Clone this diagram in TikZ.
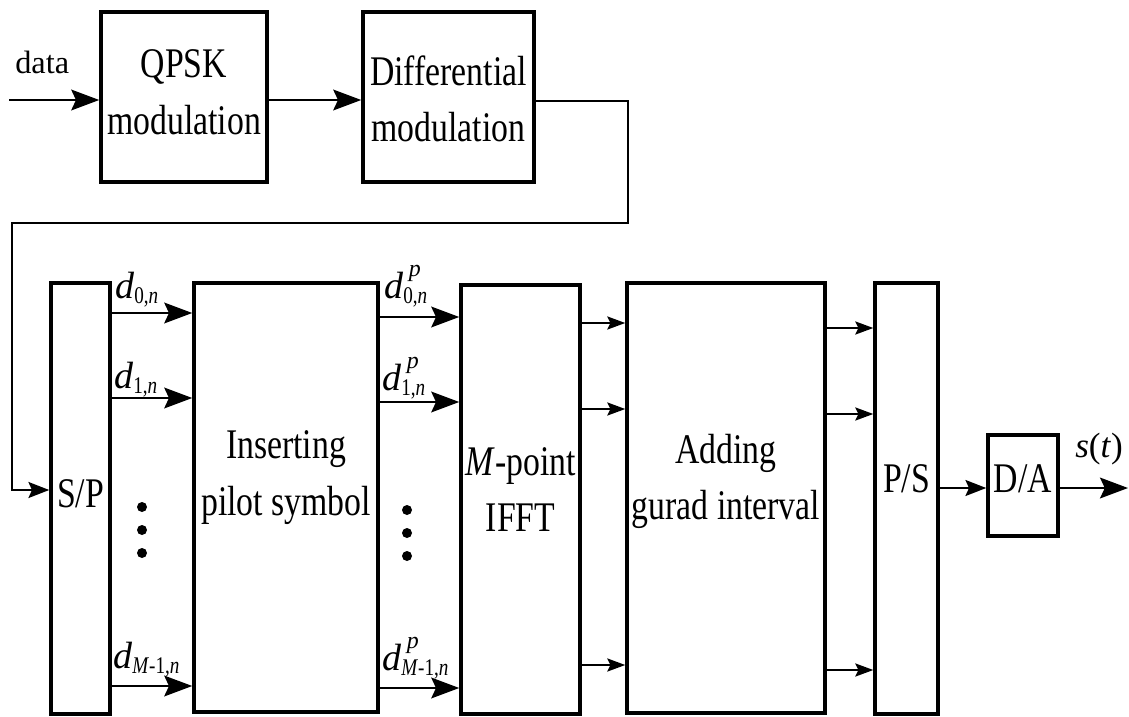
\documentclass[tikz,border=0pt]{standalone}
\usepackage{fontspec}
\usepackage{graphicx}
\setmainfont{Liberation Serif}
\usetikzlibrary{arrows.meta}
\newcommand\sq[1]{\scalebox{0.8}[1]{#1}}
\newcommand\scr{\fontsize{17}{20}\selectfont}
\newcommand\dsym[2]{\textit{d}\makebox[0pt][l]{\hspace{4pt}\raisebox{15pt}{\scr\textit{#2}}}\raisebox{-4pt}{\scr\sq{#1}}}
\begin{document}
\begin{tikzpicture}[x=0.025cm,y=-0.025cm,
  blk/.style={draw, line width=2.5pt, inner sep=0pt},
  txt/.style={font=\fontsize{30}{40}\selectfont, align=center, inner sep=0pt},
  lbl/.style={font=\fontsize{23}{26}\selectfont, inner sep=0pt, anchor=base west},
  dlbl/.style={font=\fontsize{27}{30}\selectfont, inner sep=0pt, anchor=base west},
  conn/.style={line width=1.4pt},
  bigarr/.style={conn, -{Stealth[length=0.7cm,width=0.52cm,inset=0.12cm]}},
  medarr/.style={conn, -{Stealth[length=0.52cm,width=0.4cm,inset=0.09cm]}},
  smallarr/.style={line width=1.1pt, -{Stealth[length=0.45cm,width=0.33cm,inset=0.08cm]}},
  dot/.style={fill=black}]
\useasboundingbox (0,0) rectangle (1129,716);

% top row
\node[blk, minimum width=4.15cm, minimum height=4.25cm, label={[txt,yshift=0.12cm]center:{\sq{QPSK}\\\sq{modulation}}}] (qpsk) at (184,97) {};
\node[blk, minimum width=4.275cm, minimum height=4.25cm, label={[txt,yshift=-0.05cm]center:{\sq{Differential}\\\sq{modulation}}}] (diff) at (448.5,97) {};

% bottom row
\node[blk, minimum width=1.475cm, minimum height=10.775cm, label={[txt,yshift=0.11cm]center:{\sq{S/P}}}] (sp) at (80.5,498.5) {};
\node[blk, minimum width=4.6cm, minimum height=10.725cm, label={[txt,yshift=0.5cm]center:{\sq{Inserting}\\\sq{pilot symbol}}}] (ins) at (286,497.5) {};
\node[blk, minimum width=2.975cm, minimum height=10.725cm, label={[txt,yshift=0.24cm]center:{\sq{\textit{M}-point}\\\sq{IFFT}}}] (ifft) at (520.5,499.5) {};
\node[blk, minimum width=4.95cm, minimum height=10.75cm, label={[txt,yshift=0.42cm]center:{\sq{Adding}\\\sq{gurad interval}}}] (add) at (726,498) {};
\node[blk, minimum width=1.575cm, minimum height=10.775cm, label={[txt,yshift=0.49cm]center:{\sq{P/S}}}] (ps) at (906.5,498.5) {};
\node[blk, minimum width=1.75cm, minimum height=2.525cm, label={[txt,yshift=0.16cm]center:{\sq{D/A}}}] (da) at (1023,485.5) {};

% input and top connectors
\coordinate (din) at (9,100);
\node[lbl] (data) at (15,73) {data};
\draw[bigarr] (din) -- (qpsk.west |- din);
\draw[bigarr] (qpsk.east |- 0,100) -- (diff.west |- 0,100);
\draw[medarr] (diff.east |- 0,101) -| (628,223) -- (12,223) |- (sp.west |- 0,490);

% S/P -> inserting
\foreach \yy in {313,398,686} \draw[bigarr] (sp.east |- 0,\yy) -- (ins.west |- 0,\yy);
% inserting -> IFFT
\foreach \yy in {317,402,688} \draw[bigarr] (ins.east |- 0,\yy) -- (ifft.west |- 0,\yy);
% IFFT -> adding
\foreach \yy in {323,409,665} \draw[smallarr] (ifft.east |- 0,\yy) -- (add.west |- 0,\yy);
% adding -> P/S
\foreach \yy in {328,414,670} \draw[smallarr] (add.east |- 0,\yy) -- (ps.west |- 0,\yy);
% P/S -> D/A -> out
\draw[medarr] (ps.east |- 0,488) -- (da.west |- 0,488);
\coordinate (out) at (1128,488);
\draw[bigarr] (da.east |- out) -- (out);
\node[lbl, font=\fontsize{25}{28}\selectfont] (st) at (1075,457) {\textit{s}(\textit{t})};

% labels
\node[dlbl] (l0) at (115,298) {\dsym{0,\textit{n}}{}};
\node[dlbl] (l1) at (114,388) {\dsym{1,\textit{n}}{}};
\node[dlbl] (lM) at (113,668) {\dsym{\textit{M}-1,\textit{n}}{}};
\node[dlbl] (p0) at (384,298) {\dsym{0,\textit{n}}{p}};
\node[dlbl] (p1) at (382,390) {\dsym{1,\textit{n}}{p}};
\node[dlbl] (pM) at (382,670) {\dsym{\textit{M}-1,\textit{n}}{p}};

% dots
\foreach \yy in {507,530,553} \fill[dot] (142,\yy) circle[radius=5];
\foreach \yy in {510,533,556} \fill[dot] (407,\yy) circle[radius=5];
\end{tikzpicture}
\end{document}
